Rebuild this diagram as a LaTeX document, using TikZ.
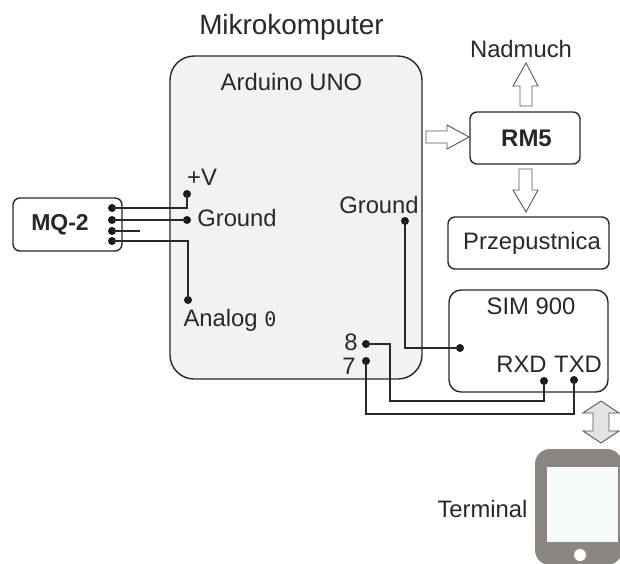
\documentclass[tikz,border=0pt]{standalone}
\usepackage{fontspec}
\setmainfont{Liberation Sans}
\newfontfamily\zeromono{DejaVu Sans Mono}
\definecolor{ink}{HTML}{2A2826}
\definecolor{panel}{HTML}{F3F2F0}
\definecolor{slate}{HTML}{8C8682}
\definecolor{arrowline}{HTML}{555555}
\definecolor{bothfill}{HTML}{E4E4E2}
\definecolor{screen}{HTML}{F6FAFA}
\tikzset{
  boxed/.style={draw=ink,line width=1.4pt,rounded corners=7pt,fill=white,inner sep=0pt,text=ink},
  lbl/.style={inner sep=0pt,text=ink,font=\fontsize{23.8}{26}\selectfont},
  pin/.style={circle,fill=black!90,draw=none,minimum size=8pt,inner sep=0pt},
  wire/.style={draw=ink,line width=1.5pt,line join=miter},
  blockarrow/.style={draw=arrowline,line width=0.9pt,fill=white,line join=miter},
}
\begin{document}
\begin{tikzpicture}[x=1pt,y=-1pt]
\useasboundingbox (0,0) rectangle (620,563);
% main board
\node[draw=ink,line width=1.4pt,rounded corners=24pt,fill=panel,minimum width=252pt,minimum height=323pt,inner sep=0pt] (board) at (296,217.5) {};
% boxes
\node[boxed,minimum width=109pt,minimum height=53pt,font=\fontsize{23}{26}\selectfont\bfseries] (mq) at (67.5,224.5) {\hspace*{-15pt}MQ-2};
\node[boxed,minimum width=110pt,minimum height=52pt,font=\fontsize{24}{26}\selectfont\bfseries] (rm) at (525,138) {\hspace*{3pt}RM5};
\node[boxed,minimum width=161pt,minimum height=52pt,font=\fontsize{23.8}{26}\selectfont] (prz) at (528.5,243) {\hspace*{7pt}Przepustnica};
\node[boxed,rounded corners=12pt,minimum width=159pt,minimum height=102pt] (sim) at (528.5,341) {};
% texts
\node[lbl,font=\fontsize{27.9}{30}\selectfont] (title) at (291.5,27) {Mikrokomputer};
\node[lbl] (ard) at (291.5,82) {Arduino UNO};
\node[lbl] (nad) at (521,49) {Nadmuch};
\node[lbl] (simt) at (531,306) {SIM 900};
\node[lbl] (rxd) at (521.5,364) {RXD};
\node[lbl] (txd) at (578,364) {TXD};
\node[lbl] (vt) at (202,177) {+V};
\node[lbl] (gl) at (237,218) {Ground};
\node[lbl] (gr) at (379,205) {Ground};
\node[lbl] (an) at (230,320) {Analog {\zeromono\fontsize{20}{22}\selectfont 0}};
\node[lbl] (n8) at (351,342) {8};
\node[lbl] (n7) at (349,366) {7};
\node[lbl] (term) at (482.5,509) {Terminal};
% pins
\node[pin] (m1) at (112,208) {};
\node[pin] (m2) at (112,220) {};
\node[pin] (m3) at (112,231) {};
\node[pin] (m4) at (112,241) {};
\coordinate (stub) at (140,231);
\node[pin] (pv) at (187,194) {};
\node[pin] (pg) at (187,220) {};
\node[pin] (pa) at (188,300) {};
\node[pin] (pgr) at (405,221) {};
\node[pin] (ps) at (460,348) {};
\node[pin] (p8) at (366,344) {};
\node[pin] (p7) at (366,361) {};
\node[pin] (prx) at (544,381) {};
\node[pin] (ptx) at (574,380) {};
% wires
\draw[wire] (m1.center) -| (pv.center);
\draw[wire] (m2.center) -- (pg.center);
\draw[wire] (m3.center) -- (stub);
\draw[wire] (m4.center) -| (pa.center);
\draw[wire] (pgr.center) |- (ps.center);
\draw[wire] (p8.center) -- (390,344) -- (390,401) -| (prx.center);
\draw[wire] (p7.center) -- (366,414) -| (ptx.center);
% block arrows
\draw[blockarrow] (520,106) -- (520,86) -- (513,86) -- (526,63) -- (538,86) -- (532,86) -- (532,106) -- cycle;
\draw[blockarrow] (519,169) -- (519,190) -- (513,190) -- (526,212) -- (538,190) -- (532,190) -- (532,169) -- cycle;
\draw[blockarrow] (426,131) -- (447,131) -- (447,125) -- (469,137) -- (447,149) -- (447,143) -- (426,143) -- cycle;
\draw[blockarrow,fill=bothfill] (601,401) -- (619,413) -- (609,413) -- (609,431) -- (619,431) -- (601,443) -- (583,431) -- (593,431) -- (593,413) -- (583,413) -- cycle;
% terminal
\fill[slate,rounded corners=15pt] (535,449) rectangle (622,565);
\fill[screen] (547,467) rectangle (618,542);
\fill[white] (580,555) circle (6pt);
\end{tikzpicture}
\end{document}
